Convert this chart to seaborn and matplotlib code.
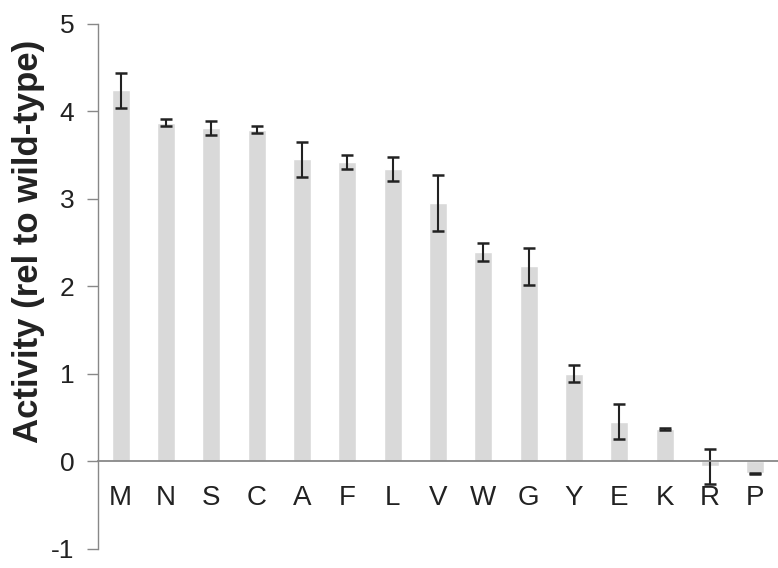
import numpy as np
import pandas as pd
import seaborn as sns
import matplotlib as mpl
import matplotlib.pyplot as plt
from matplotlib.ticker import FixedLocator
mpl.use('Agg')

residues = ['M', 'N', 'S', 'C', 'A', 'F', 'L', 'V', 'W', 'G', 'Y', 'E', 'K', 'R', 'P']
activity = [4.24, 3.87, 3.81, 3.79, 3.45, 3.42, 3.34, 2.95, 2.39, 2.23, 1.00, 0.45, 0.37, -0.06, -0.14]
err = [0.20, 0.04, 0.08, 0.04, 0.20, 0.08, 0.14, 0.32, 0.10, 0.21, 0.10, 0.20, 0.01, 0.20, 0.01]
yticks = [-1, 0, 1, 2, 3, 4, 5]

df = pd.DataFrame({'residue': residues, 'activity': activity, 'err': err})

sns.set_style('white')
plt.rcParams['font.family'] = ['Liberation Sans', 'DejaVu Sans']

fig = plt.figure(figsize=(7.78, 5.68), dpi=100)
ax = fig.add_axes([0.126, 0.034, 0.874, 0.924])

sns.barplot(data=df, x='residue', y='activity', order=residues, color='#d9d9d9',
            saturation=1, width=0.4, errorbar=None, ax=ax)
ax.errorbar(np.arange(len(residues)), df['activity'], yerr=df['err'], fmt='none',
            ecolor='#222222', elinewidth=1.5, capsize=4.5, capthick=1.8)

ax.set_xlim(-0.5, len(residues) - 0.5)
ax.set_ylim(-1, 5)
ax.set_yticks(yticks)
ax.set_yticklabels([str(t) for t in yticks], fontsize=19, color='#222222')

# category axis sits on the zero line
for s in ['top', 'right']:
  ax.spines[s].set_visible(False)
ax.spines['bottom'].set_position(('data', 0))
ax.spines['bottom'].set_color('#888888')
ax.spines['bottom'].set_linewidth(1.3)
ax.spines['left'].set_color('#888888')
ax.spines['left'].set_linewidth(1.0)

ax.xaxis.set_minor_locator(FixedLocator(np.arange(0.5, len(residues) - 0.5, 1)))
ax.tick_params(axis='x', which='major', length=0, pad=17, labelsize=20, labelcolor='#222222')
ax.tick_params(axis='x', which='minor', length=9, width=1.0, color='#888888', direction='out')
ax.tick_params(axis='y', which='major', length=8, width=1.0, color='#888888', direction='out', left=True, pad=9)

ax.set_xlabel('')
ax.set_ylabel('Activity (rel to wild-type)', fontsize=25, fontweight='bold', color='#222222')
ax.yaxis.set_label_coords(-0.078, 0.585)

plt.savefig('out.png', dpi=100)
plt.close(fig=None)
